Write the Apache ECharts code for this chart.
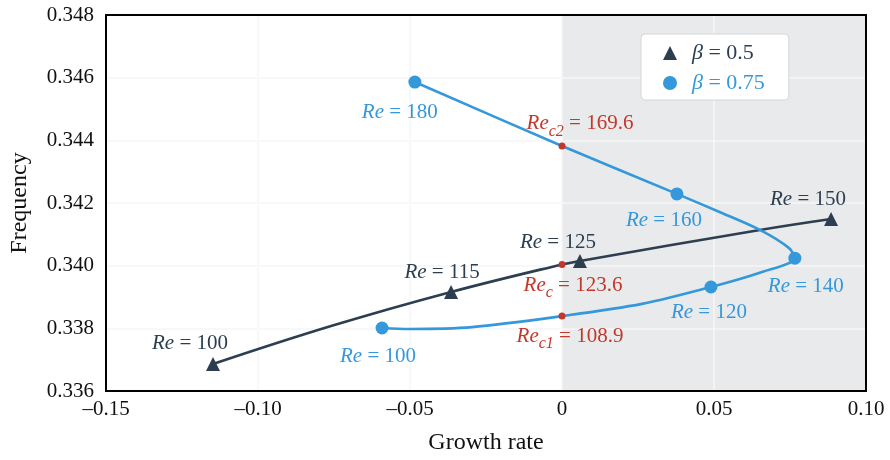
<!DOCTYPE html>
<html><head><meta charset="utf-8">
<script src="https://cdn.jsdelivr.net/npm/echarts@6/dist/echarts.min.js"></script>
<style>html,body{margin:0;padding:0;background:#fff}#c{width:890px;height:460px}</style>
</head><body><div id="c"></div>
<script>
// ---- data ----
const xTicks = [-0.15, -0.10, -0.05, 0, 0.05, 0.10];
const yTicks = [0.336, 0.338, 0.340, 0.342, 0.344, 0.346, 0.348];

// beta = 0.5 curve
const b05CurveX = [-0.1148, -0.0757, -0.0365, 0.0, 0.0059, 0.0651, 0.0885];
const b05CurveY = [0.33686, 0.33808, 0.33916, 0.34004, 0.34015, 0.34114, 0.34149];
// beta = 0.5 markers
const b05Re = [100, 115, 125, 150];
const b05X = [-0.1148, -0.0365, 0.0059, 0.0885];
const b05Y = [0.33686, 0.33916, 0.34015, 0.34149];

// beta = 0.75 curve
const b075CurveX = [-0.0592, -0.0503, -0.0296, 0.0, 0.0263, 0.049, 0.0658, 0.0766, 0.0747, 0.0651, 0.0526, 0.0378, 0.0, -0.0484];
const b075CurveY = [0.33801, 0.33798, 0.33804, 0.33839, 0.33878, 0.33932, 0.33980, 0.34024, 0.34056, 0.34114, 0.34168, 0.34229, 0.34382, 0.34586];
// beta = 0.75 markers
const b075Re = [100, 120, 140, 160, 180];
const b075X = [-0.0592, 0.049, 0.0766, 0.0378, -0.0484];
const b075Y = [0.33801, 0.33932, 0.34024, 0.34229, 0.34586];

// critical Reynolds numbers
const critSub = ['c2', 'c', 'c1'];
const critRe = [169.6, 123.6, 108.9];
const critX = [0, 0, 0];
const critY = [0.34382, 0.34004, 0.33839];

// ---- layout / style ----
const DARK = '#2c3e50', BLUE = '#3498db', RED = '#c0392b';
const FONT = 'Liberation Serif';
const b05Off = [[-23, -21], [-9, -20], [-22, -18], [-23, -19]];
const b075Off = [[-4, 28], [-2, 26], [11, 28], [-13, 27], [-15, 30]];
const critOff = [[18, -22], [11, 21], [8, 20]];

const zip = (xs, ys) => xs.map((x, i) => [x, ys[i]]);
const richFor = (color) => ({
  i: {fontFamily: FONT, fontStyle: 'italic', fontSize: 21, color},
  n: {fontFamily: FONT, fontSize: 21, color},
  s: {fontFamily: FONT, fontStyle: 'italic', fontSize: 16, color, padding: [15, 0, 0, 0]}
});
const markerData = (xs, ys, res, offs, color) => xs.map((x, i) => ({
  value: [x, ys[i]],
  label: {show: true, position: 'inside', offset: offs[i],
    formatter: '{i|Re}{n| = ' + res[i] + '}', rich: richFor(color)}
}));

const fmtX = v => Math.abs(v) < 1e-9 ? '0' : (v < 0 ? '\u2013' : '') + Math.abs(v).toFixed(2);

const option = {
  animation: false,
  backgroundColor: '#fff',
  grid: {left: 104, right: 24, top: 15, bottom: 69, show: true,
    borderColor: '#000', borderWidth: 2, backgroundColor: 'transparent', z: 4},
  xAxis: [{
    type: 'value', min: xTicks[0], max: xTicks[xTicks.length - 1], interval: 0.05, z: 0,
    name: 'Growth rate', nameLocation: 'middle', nameGap: 40,
    nameTextStyle: {fontFamily: FONT, fontSize: 24, color: '#111'},
    axisLine: {show: false}, axisTick: {show: false},
    axisLabel: {formatter: fmtX, fontFamily: FONT, fontSize: 21, color: '#111', margin: 8},
    splitLine: {lineStyle: {color: '#eceef0', width: 1.5}}
  }, {
    type: 'value', min: xTicks[0], max: xTicks[xTicks.length - 1], interval: 0.05, z: 2,
    axisLine: {show: false}, axisTick: {show: false}, axisLabel: {show: false},
    splitLine: {showMinLine: false, showMaxLine: false, lineStyle: {color: 'rgba(255,255,255,0.6)', width: 1.5}}
  }],
  yAxis: [{
    type: 'value', min: yTicks[0], max: yTicks[yTicks.length - 1], interval: 0.002, z: 0,
    name: 'Frequency', nameLocation: 'middle', nameGap: 74,
    nameTextStyle: {fontFamily: FONT, fontSize: 24, color: '#111'},
    axisLine: {show: false}, axisTick: {show: false},
    axisLabel: {formatter: v => v.toFixed(3), fontFamily: FONT, fontSize: 21, color: '#111', margin: 12},
    splitLine: {lineStyle: {color: '#eceef0', width: 1.5}}
  }, {
    type: 'value', min: yTicks[0], max: yTicks[yTicks.length - 1], interval: 0.002, z: 2,
    axisLine: {show: false}, axisTick: {show: false}, axisLabel: {show: false},
    splitLine: {showMinLine: false, showMaxLine: false, lineStyle: {color: 'rgba(255,255,255,0.6)', width: 1.5}}
  }],
  legend: {
    orient: 'vertical', left: 641, top: 34, z: 10,
    backgroundColor: '#fff', borderColor: '#d4d6d8', borderWidth: 1, borderRadius: 4,
    padding: [8, 24, 6, 22], itemGap: 8, itemWidth: 14, itemHeight: 14,
    data: [{name: 'b05', icon: 'triangle', itemStyle: {color: DARK}},
           {name: 'b075', icon: 'circle', itemStyle: {color: BLUE}}],
    formatter: n => n === 'b05' ? '{bi|β}{bn| = 0.5}' : '{ci|β}{cn| = 0.75}',
    textStyle: {rich: {
      bi: {fontFamily: FONT, fontStyle: 'italic', fontSize: 22, color: DARK, padding: [0, 0, 0, 10]},
      bn: {fontFamily: FONT, fontSize: 22, color: DARK},
      ci: {fontFamily: FONT, fontStyle: 'italic', fontSize: 22, color: BLUE, padding: [0, 0, 0, 10]},
      cn: {fontFamily: FONT, fontSize: 22, color: BLUE}
    }}
  },
  series: [
    {type: 'line', name: 'shade', z: 1, data: [], silent: true,
     markArea: {silent: true, itemStyle: {color: '#e9eaec'}, data: [[{xAxis: 0}, {xAxis: xTicks[xTicks.length - 1]}]]}},
    {type: 'line', name: 'b05line', z: 5, smooth: 0.4, showSymbol: false, data: zip(b05CurveX, b05CurveY),
     lineStyle: {color: DARK, width: 2.6}},
    {type: 'line', name: 'b075line', z: 5, smooth: 0.3, showSymbol: false, data: zip(b075CurveX, b075CurveY),
     lineStyle: {color: BLUE, width: 2.6}},
    {type: 'scatter', name: 'b05', z: 6, symbol: 'triangle', symbolSize: 14, itemStyle: {color: DARK, opacity: 1},
     data: markerData(b05X, b05Y, b05Re, b05Off, DARK)},
    {type: 'scatter', name: 'b075', z: 6, symbol: 'circle', symbolSize: 13, itemStyle: {color: BLUE, opacity: 1},
     data: markerData(b075X, b075Y, b075Re, b075Off, BLUE)},
    {type: 'scatter', name: 'crit', z: 7, symbol: 'circle', symbolSize: 7, itemStyle: {color: RED, opacity: 1},
     data: critX.map((x, i) => ({value: [x, critY[i]],
       label: {show: true, position: 'inside', offset: critOff[i],
         formatter: '{i|Re}{s|' + critSub[i] + '}{n| = ' + critRe[i] + '}', rich: richFor(RED)}}))}
  ]
};
const chart = echarts.init(document.getElementById('c'), null, {renderer: 'canvas'});
chart.setOption(option);
</script></body></html>
